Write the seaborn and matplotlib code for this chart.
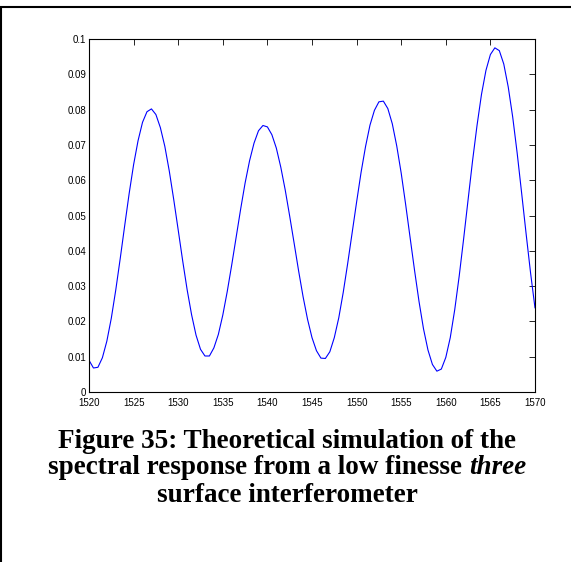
import matplotlib
matplotlib.use("Agg")
import matplotlib.pyplot as plt
import seaborn as sns
from matplotlib.lines import Line2D

# wavelength (nm) and simulated response
wavelength = [
    1520.0, 1520.5, 1521.0, 1521.5, 1522.0, 1522.5, 1523.0, 1523.5, 1524.0, 1524.5,
    1525.0, 1525.5, 1526.0, 1526.5, 1527.0, 1527.5, 1528.0, 1528.5, 1529.0, 1529.5,
    1530.0, 1530.5, 1531.0, 1531.5, 1532.0, 1532.5, 1533.0, 1533.5, 1534.0, 1534.5,
    1535.0, 1535.5, 1536.0, 1536.5, 1537.0, 1537.5, 1538.0, 1538.5, 1539.0, 1539.5,
    1540.0, 1540.5, 1541.0, 1541.5, 1542.0, 1542.5, 1543.0, 1543.5, 1544.0, 1544.5,
    1545.0, 1545.5, 1546.0, 1546.5, 1547.0, 1547.5, 1548.0, 1548.5, 1549.0, 1549.5,
    1550.0, 1550.5, 1551.0, 1551.5, 1552.0, 1552.5, 1553.0, 1553.5, 1554.0, 1554.5,
    1555.0, 1555.5, 1556.0, 1556.5, 1557.0, 1557.5, 1558.0, 1558.5, 1559.0, 1559.5,
    1560.0, 1560.5, 1561.0, 1561.5, 1562.0, 1562.5, 1563.0, 1563.5, 1564.0, 1564.5,
    1565.0, 1565.5, 1566.0, 1566.5, 1567.0, 1567.5, 1568.0, 1568.5, 1569.0, 1569.5,
    1570.0,
]
response = [
    0.0090, 0.0068, 0.0070, 0.0097, 0.0144, 0.0209, 0.0289, 0.0378, 0.0471, 0.0562,
    0.0644, 0.0712, 0.0764, 0.0794, 0.0802, 0.0786, 0.0749, 0.0696, 0.0626, 0.0545,
    0.0459, 0.0372, 0.0290, 0.0219, 0.0161, 0.0121, 0.0102, 0.0102, 0.0125, 0.0163,
    0.0218, 0.0285, 0.0360, 0.0439, 0.0518, 0.0592, 0.0655, 0.0705, 0.0740, 0.0755,
    0.0751, 0.0729, 0.0691, 0.0637, 0.0572, 0.0498, 0.0421, 0.0343, 0.0270, 0.0206,
    0.0154, 0.0117, 0.0096, 0.0095, 0.0114, 0.0154, 0.0210, 0.0282, 0.0364, 0.0451,
    0.0538, 0.0622, 0.0695, 0.0756, 0.0798, 0.0822, 0.0824, 0.0803, 0.0760, 0.0697,
    0.0620, 0.0531, 0.0437, 0.0344, 0.0256, 0.0179, 0.0119, 0.0078, 0.0059, 0.0065,
    0.0098, 0.0154, 0.0233, 0.0328, 0.0434, 0.0545, 0.0655, 0.0755, 0.0843, 0.0911,
    0.0956, 0.0975, 0.0967, 0.0929, 0.0864, 0.0779, 0.0677, 0.0564, 0.0449, 0.0338,
    0.0238,
]
xticks = [1520, 1525, 1530, 1535, 1540, 1545, 1550, 1555, 1560, 1565, 1570]
yticks = [0, 0.01, 0.02, 0.03, 0.04, 0.05, 0.06, 0.07, 0.08, 0.09, 0.1]
ytick_labels = ["0", "0.01", "0.02", "0.03", "0.04", "0.05", "0.06", "0.07", "0.08", "0.09", "0.1"]

caption_1 = "Figure 35: Theoretical simulation of the"
caption_2a = "spectral response from a low finesse "
caption_2b = "three"
caption_3 = "surface interferometer"

sns.set_style("white")
plt.rcParams['font.family'] = ['Liberation Sans', 'DejaVu Sans']

fig = plt.figure(figsize=(5.71, 5.62), dpi=100)
ax = fig.add_axes([89 / 571, 1 - 392 / 562, 446 / 571, 353 / 562])

sns.lineplot(x=wavelength, y=response, ax=ax, color='#0000ff', linewidth=0.8)

ax.set_xlim(1520, 1570)
ax.set_ylim(0, 0.1)
ax.set_xticks(xticks)
ax.set_xticklabels([str(t) for t in xticks])
ax.set_yticks(yticks)
ax.set_yticklabels(ytick_labels)
ax.tick_params(direction='in', length=4, width=0.6, labelsize=7, pad=2,
               top=True, right=True, colors='black')
ax.tick_params(axis='x', pad=4.5)
for s in ax.spines.values():
    s.set_visible(True)
    s.set_color('black')
    s.set_linewidth(0.8)

# page frame lines (top and left)
fig.add_artist(Line2D([0, 1], [1 - 7 / 562, 1 - 7 / 562], transform=fig.transFigure,
                      color='black', linewidth=1.5))
fig.add_artist(Line2D([1 / 571, 1 / 571], [0, 1 - 7 / 562], transform=fig.transFigure,
                      color='black', linewidth=1.5))

# caption
serif = ['Liberation Serif', 'DejaVu Serif']
cx = 287 / 571
fs = 19.5
fig.text(cx, 1 - 441 / 562, caption_1, ha='center', va='center', fontsize=fs,
         fontweight='bold', family=serif, color='black')
fig.text(cx, 1 - 495 / 562, caption_3, ha='center', va='center', fontsize=fs,
         fontweight='bold', family=serif, color='black')

renderer = fig.canvas.get_renderer()
ta = fig.text(0, 1 - 468 / 562, caption_2a, ha='left', va='center', fontsize=fs,
              fontweight='bold', family=serif, color='black')
tb = fig.text(0, 1 - 468 / 562, caption_2b, ha='left', va='center', fontsize=fs,
              fontweight='bold', style='italic', family=serif, color='black')
wa = ta.get_window_extent(renderer).width
wb = tb.get_window_extent(renderer).width
total = (wa + wb) / fig.bbox.width
x0 = cx - total / 2
ta.set_x(x0)
tb.set_x(x0 + wa / fig.bbox.width)

fig.savefig('out.png', dpi=100)
